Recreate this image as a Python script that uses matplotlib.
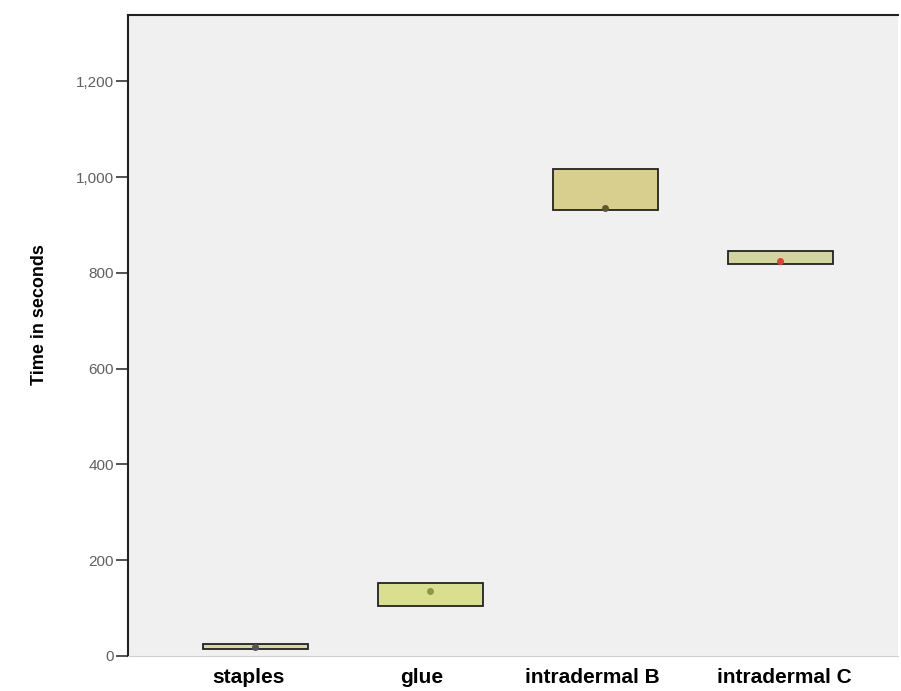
import matplotlib.pyplot as plt
import matplotlib.transforms as mtransforms
from matplotlib.ticker import FuncFormatter

plt.rcParams['font.family'] = ['Liberation Sans', 'DejaVu Sans']

# Data
groups = ['staples', 'glue', 'intradermal B', 'intradermal C']
q1 = [15, 104, 931, 818]
q3 = [24, 152, 1017, 846]
medians = [19, 135, 936, 825]
box_colors = ['#d8d8a0', '#d9df8e', '#d8cf8e', '#d2d5a0']
median_colors = ['#555555', '#8a9a40', '#5a5a30', '#e04030']

fig = plt.figure(figsize=(9.01, 6.91), dpi=100)
ax = fig.add_axes([0.142, 0.051, 0.855, 0.927])
ax.set_facecolor('#f0f0f0')

stats = []
for g, a, m, b in zip(groups, q1, medians, q3):
    stats.append({'label': g, 'q1': a, 'med': m, 'q3': b,
                  'whislo': a, 'whishi': b, 'fliers': []})

pos = list(range(len(groups)))
bp = ax.bxp(stats, positions=pos, widths=0.6, patch_artist=True,
            showcaps=False, showfliers=False,
            medianprops={'linewidth': 0},
            boxprops={'linewidth': 1.3, 'edgecolor': '#222222'},
            whiskerprops={'linewidth': 0})
for patch, c in zip(bp['boxes'], box_colors):
    patch.set_facecolor(c)

for x, m, c in zip(pos, medians, median_colors):
    ax.plot(x, m, 'o', ms=4, color=c, zorder=5)

ax.set_xlim(-0.726, 3.674)
ax.set_ylim(0, 1338)
ax.set_yticks([0, 200, 400, 600, 800, 1000, 1200])
ax.yaxis.set_major_formatter(FuncFormatter(lambda v, p: f'{int(v):,}'))
ax.tick_params(axis='y', labelsize=11, labelcolor='#606060', length=9, width=1.2,
               color='#333333', pad=1)
ax.tick_params(axis='x', length=0, labelsize=15, pad=9)

# small horizontal nudges of the category labels, as in the reference
nudges = [-7, -8, -13, 4]
for lab, dx in zip(ax.get_xticklabels(), nudges):
    lab.set_fontweight('bold')
    lab.set_transform(lab.get_transform() +
                      mtransforms.ScaledTranslation(dx / 100, 0, fig.dpi_scale_trans))

ax.set_ylabel('Time in seconds', fontsize=13, fontweight='bold')
ax.yaxis.set_label_coords(-0.104, 0.532)

ax.spines['right'].set_visible(False)
ax.spines['bottom'].set_color('#d0d0d0')
ax.spines['left'].set_color('#222222')
ax.spines['top'].set_color('#222222')
ax.spines['left'].set_linewidth(1.5)
ax.spines['top'].set_linewidth(1.5)

fig.savefig('out.png', dpi=100)
